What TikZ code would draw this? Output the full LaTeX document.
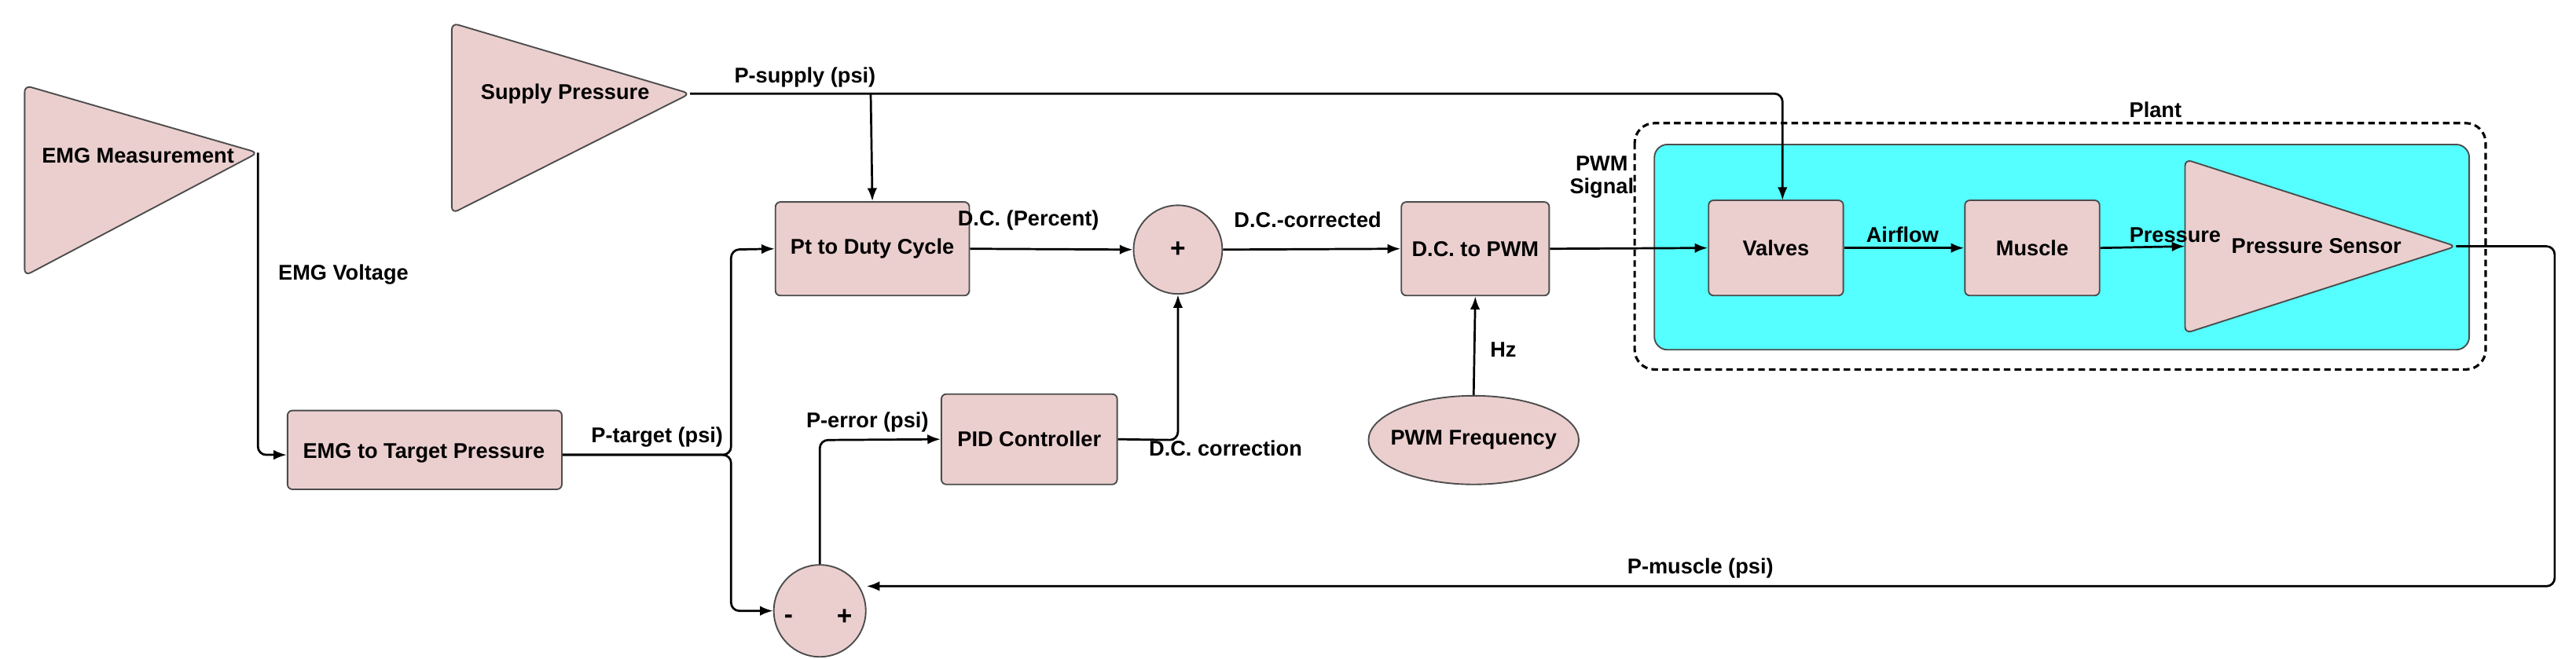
\documentclass[tikz,border=0pt]{standalone}
\usepackage{fontspec}
\setmainfont{Liberation Sans}
\usetikzlibrary{arrows.meta,shapes.geometric}
\definecolor{pk}{HTML}{EBCFCF}
\definecolor{cy}{HTML}{55FFFF}
\begin{document}
\begin{tikzpicture}[x=1pt,y=-1pt,
  font=\fontsize{13}{14}\selectfont\bfseries,
  blk/.style={draw=black!70,fill=pk,rounded corners=3pt,line width=0.9pt},
  ln/.style={line width=1.3pt,rounded corners=5pt},
  ar/.style={ln,-{Latex[length=8pt,width=6pt]}},
  lb/.style={inner sep=0pt}]
\useasboundingbox (0,0) rectangle (1568,401);
% plant
\draw[dashed,line width=1.5pt,rounded corners=12pt,dash pattern=on 4pt off 2.5pt] (995,75) rectangle (1513,225);
\draw[draw=black!70,fill=cy,rounded corners=8pt,line width=0.9pt] (1007,88) rectangle (1503,213);
\node[lb] (plant) at (1312,67) {Plant};
% triangles
\draw[blk,rounded corners=4pt] (15,52) -- (157,93) -- (15,168) -- cycle;
\coordinate (emgA) at (157,93);
\node[lb] (emgm) at (84,95) {EMG Measurement};
\draw[blk,rounded corners=4pt] (275,14) -- (420,57) -- (275,130) -- cycle;
\coordinate (supA) at (420,57);
\node[lb] (sup) at (344,57) {Supply Pressure};
\draw[blk,rounded corners=4pt] (1330,97) -- (1495,150) -- (1330,203) -- cycle;
\coordinate (psA) at (1495,150);
\node[lb] (ps) at (1410,150) {Pressure Sensor};
% boxes
\node[blk,minimum width=167pt,minimum height=48pt] (emgt) at (258.5,274) {};
\node[lb] at (258,276) {EMG to Target Pressure};
\node[blk,minimum width=118pt,minimum height=57pt] (pt) at (531,151.5) {Pt to Duty Cycle};
\node[blk,minimum width=107pt,minimum height=55pt] (pid) at (626.5,267.5) {PID Controller};
\node[blk,minimum width=90pt,minimum height=57pt] (dcp) at (898,151.5) {D.C. to PWM};
\node[blk,minimum width=82pt,minimum height=58pt] (val) at (1081,151) {Valves};
\node[blk,minimum width=82pt,minimum height=58pt] (mus) at (1237,151) {Muscle};
\node[blk,circle,minimum size=54pt,inner sep=0pt] (sum) at (717,152) {\fontsize{16}{16}\selectfont +};
\node[blk,circle,minimum size=56pt,inner sep=0pt] (err) at (499,372) {};
\node[lb] at (480,377) {\fontsize{16}{16}\selectfont -};
\node[lb] at (514,376) {\fontsize{16}{16}\selectfont +};
\node[blk,ellipse,minimum width=128pt,minimum height=54pt,inner sep=0pt] (pwmf) at (897,268) {};
\node[lb] at (897,268) {PWM Frequency};
% connectors
\draw[ar] (emgA) -- (157,277) -- (emgt.west|-0,277);
\draw[ar] (supA) -- (1085,57) -- (1085,122);
\draw[ar] (530,57) -- (pt.north);
\coordinate (tgt) at (445,277);
\draw[ar] (emgt.east|-0,277) -- (tgt) -- (445,152) -- (pt.west);
\draw[ar] (emgt.east|-0,277) -- (tgt) -- (445,372) -- (err.west);
\draw[ar] (err.north) -- (499,268) -- (pid.west);
\draw[ar] (pid.east) -- (717,268) -- (sum.south);
\draw[ar] (pt.east) -- (sum.west);
\draw[ar] (sum.east) -- (dcp.west);
\draw[ar] (pwmf.north) -- (dcp.south);
\draw[ar] (dcp.east) -- (val.west);
\draw[ar] (val.east) -- (mus.west);
\draw[ar] (mus.east) -- (1330,150);
\draw[ar] (psA) -- (1555,150) -- (1555,357) -- (err.east|-0,357);
% labels
\node[lb] at (490,47) {P-supply (psi)};
\node[lb] at (209,167) {EMG Voltage};
\node[lb] at (400,266) {P-target (psi)};
\node[lb] at (626,134) {D.C. (Percent)};
\node[lb] at (796,134) {D.C.-corrected};
\node[lb,align=center] at (975,108) {PWM\\Signal};
\node[lb] at (1158,143) {Airflow};
\node[lb] at (1324,143) {Pressure};
\node[lb] at (528,257) {P-error (psi)};
\node[lb] at (746,273) {D.C. correction};
\node[lb] at (915,213) {Hz};
\node[lb] at (1035,346) {P-muscle (psi)};
\end{tikzpicture}
\end{document}
